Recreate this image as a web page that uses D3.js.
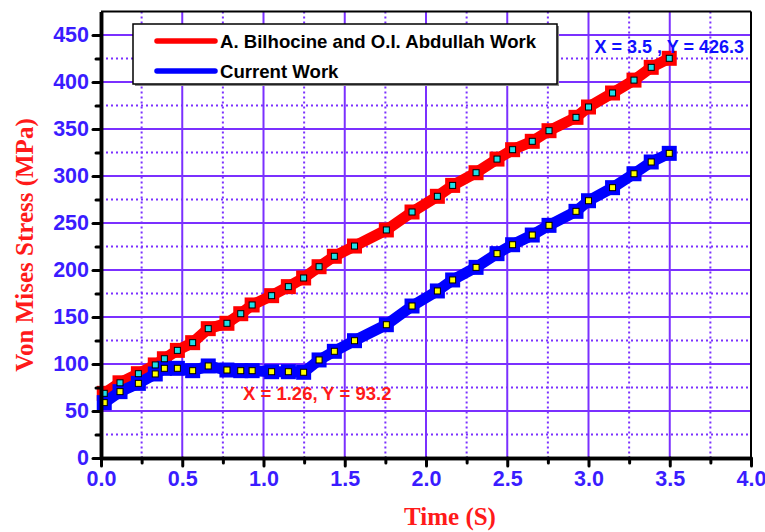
<!DOCTYPE html>
<html>
<head>
<meta charset="utf-8">
<script src="https://cdn.jsdelivr.net/npm/d3@7"></script>
<style>
  body { margin: 0; background: #fff; }
  svg { display: block; }
</style>
</head>
<body>
<script>
// time steps (s)
const time = [0.02, 0.117, 0.23, 0.334, 0.39, 0.47, 0.564, 0.66, 0.775, 0.86, 0.93, 1.05,
  1.153, 1.247, 1.342, 1.436, 1.56, 1.756, 1.914, 2.07, 2.164, 2.308, 2.437, 2.533,
  2.654, 2.757, 2.923, 3.0, 3.148, 3.28, 3.386, 3.497];
// A. Bilhocine and O.I. Abdullah Work
const refStress = [68.8, 80, 89.7, 99, 105.6, 114.5, 122.7, 137.6, 143.3, 153.5, 162.8, 172.7,
  182.3, 191.5, 203.5, 214.6, 225.5, 242.6, 261.7, 278.4, 290, 303.5, 318, 328,
  336.9, 348.2, 362.4, 373.4, 388.3, 402, 415.6, 425.2];
// Current Work
const curStress = [58.9, 70.6, 79.4, 89.4, 95.4, 95.4, 92.9, 97.9, 93.6, 92.9, 92.9, 91.8,
  91.8, 91.2, 104.3, 113.5, 124.8, 141.8, 161.7, 177.7, 189.4, 202.8, 217.4, 226.9,
  237.2, 247.5, 262.4, 273.7, 287.6, 302.4, 314.9, 324.1];

const seriesNames = ["A. Bilhocine and O.I. Abdullah Work", "Current Work"];
const xTicks = [0, 0.5, 1, 1.5, 2, 2.5, 3, 3.5, 4];
const xMinor = [0.25, 0.75, 1.25, 1.75, 2.25, 2.75, 3.25, 3.75];
const yTicks = [0, 50, 100, 150, 200, 250, 300, 350, 400, 450];
const yMinor = [25, 75, 125, 175, 225, 275, 325, 375, 425];
const notes = [
  {text: "X = 3.5 , Y = 426.3", t: 3.5, v: 426.3},
  {text: "X = 1.26, Y = 93.2", t: 1.26, v: 93.2}
];

const W = 765, H = 532;
const gridCol = "#7b30ff";
const labCol = "#3a1cff";
const sans = "Liberation Sans, Arial, sans-serif";
const serif = "Liberation Serif, Times New Roman, serif";

const svg = d3.select("body").append("svg").attr("width", W).attr("height", H);

const x = d3.scaleLinear().domain([0, 4]).range([101, 751]);
const y = d3.scaleLinear().domain([0, 475]).range([458, 11.5]);

// grid
const grid = svg.append("g");
grid.selectAll(".gx").data(xMinor).join("line")
  .attr("x1", d => x(d)).attr("x2", d => x(d)).attr("y1", y(475)).attr("y2", y(0))
  .attr("stroke", gridCol).attr("stroke-width", 2).attr("stroke-dasharray", "2 3");
grid.selectAll(".gy").data(yMinor).join("line")
  .attr("y1", d => y(d)).attr("y2", d => y(d)).attr("x1", x(0)).attr("x2", x(4))
  .attr("stroke", gridCol).attr("stroke-width", 2).attr("stroke-dasharray", "2 3");
grid.selectAll(".mx").data(xTicks.slice(1, -1)).join("line")
  .attr("x1", d => x(d)).attr("x2", d => x(d)).attr("y1", y(475)).attr("y2", y(0))
  .attr("stroke", gridCol).attr("stroke-width", 2);
grid.selectAll(".my").data(yTicks.slice(1)).join("line")
  .attr("y1", d => y(d)).attr("y2", d => y(d)).attr("x1", x(0)).attr("x2", x(4))
  .attr("stroke", gridCol).attr("stroke-width", 2);

// series
const refData = time.map((t, i) => [t, refStress[i]]);
const curData = time.map((t, i) => [t, curStress[i]]);
const line = d3.line().x(d => x(d[0])).y(d => y(d[1]));

function band(data, col) {
  svg.append("path").datum(data).attr("d", line)
    .attr("fill", "none").attr("stroke", col).attr("stroke-width", 11)
    .attr("stroke-linejoin", "miter");
  svg.append("g").selectAll("rect").data(data).join("rect")
    .attr("x", d => x(d[0]) - 7.5).attr("y", d => y(d[1]) - 7.5)
    .attr("width", 15).attr("height", 15).attr("fill", col);
}
function dots(data, col) {
  svg.append("g").selectAll("rect").data(data).join("rect")
    .attr("x", d => x(d[0]) - 3).attr("y", d => y(d[1]) - 3)
    .attr("width", 6).attr("height", 6).attr("fill", col)
    .attr("stroke", "#000").attr("stroke-width", 1);
}
band(refData, "#ff0000");
band(curData, "#0000ff");
dots(refData, "#20dfe8");
dots(curData, "#ffff00");

// frame top/right
svg.append("line").attr("x1", x(0)).attr("x2", x(4)).attr("y1", y(475)).attr("y2", y(475))
  .attr("stroke", "#000").attr("stroke-width", 2);
svg.append("line").attr("x1", x(4)).attr("x2", x(4)).attr("y1", y(475)).attr("y2", y(0))
  .attr("stroke", "#000").attr("stroke-width", 2);

// axes
function styleAxis(g) {
  g.select(".domain").attr("stroke", "#000").attr("stroke-width", 3.5);
  g.selectAll(".tick line").attr("stroke", "#000").attr("stroke-width", 3).attr("stroke-linecap", "round");
  g.selectAll(".tick text").attr("fill", labCol).attr("font-family", sans)
    .attr("font-weight", "bold").attr("font-size", 21.5);
}
svg.append("g").attr("transform", `translate(0,${y(0)})`)
  .call(d3.axisBottom(x).tickValues(xMinor).tickSize(5).tickSizeOuter(0).tickFormat(""))
  .call(styleAxis);
svg.append("g").attr("transform", `translate(${x(0)},0)`)
  .call(d3.axisLeft(y).tickValues(yMinor).tickSize(5).tickSizeOuter(0).tickFormat(""))
  .call(styleAxis);
svg.append("g").attr("transform", `translate(0,${y(0)})`)
  .call(d3.axisBottom(x).tickValues(xTicks).tickSize(8).tickSizeOuter(0).tickPadding(5).tickFormat(d3.format(".1f")))
  .call(styleAxis);
svg.append("g").attr("transform", `translate(${x(0)},0)`)
  .call(d3.axisLeft(y).tickValues(yTicks).tickSize(8).tickSizeOuter(0).tickPadding(4).tickFormat(d3.format("d")))
  .call(styleAxis);

// axis titles
svg.append("text").attr("x", 450).attr("y", 525).attr("text-anchor", "middle")
  .attr("font-family", serif).attr("font-weight", "bold")
  .attr("font-size", 25).attr("fill", "#ff1a1a").text("Time (S)");
svg.append("text").attr("transform", "translate(33,245) rotate(-90)").attr("text-anchor", "middle")
  .attr("font-family", serif).attr("font-weight", "bold")
  .attr("font-size", 25).attr("fill", "#ff1a1a").text("Von Mises Stress  (MPa)");

// legend
const lg = svg.append("g");
lg.append("rect").attr("x", 135).attr("y", 26).attr("width", 424).attr("height", 60).attr("fill", "#888");
lg.append("rect").attr("x", 133).attr("y", 24).attr("width", 424).attr("height", 60)
  .attr("fill", "#fff").attr("stroke", "#000").attr("stroke-width", 1.5);
const legCols = ["#ff0000", "#0000ff"];
seriesNames.forEach((name, i) => {
  const ly = 41 + i * 30;
  lg.append("line").attr("x1", 157).attr("x2", 215).attr("y1", ly).attr("y2", ly)
    .attr("stroke", legCols[i]).attr("stroke-width", 5.5).attr("stroke-linecap", "round");
  lg.append("text").attr("x", 220).attr("y", ly + 7)
    .attr("font-family", sans).attr("font-weight", "bold")
    .attr("font-size", 18.6).attr("fill", "#000").text(name);
});

// annotations
svg.append("text").attr("x", 744).attr("y", 53).attr("text-anchor", "end")
  .attr("font-family", sans).attr("font-weight", "bold")
  .attr("font-size", 18).attr("fill", "#1010ff").text(notes[0].text);
svg.append("text").attr("x", 243).attr("y", 400)
  .attr("font-family", sans).attr("font-weight", "bold")
  .attr("font-size", 18.5).attr("fill", "#ff1a1a").text(notes[1].text);
</script>
</body>
</html>
